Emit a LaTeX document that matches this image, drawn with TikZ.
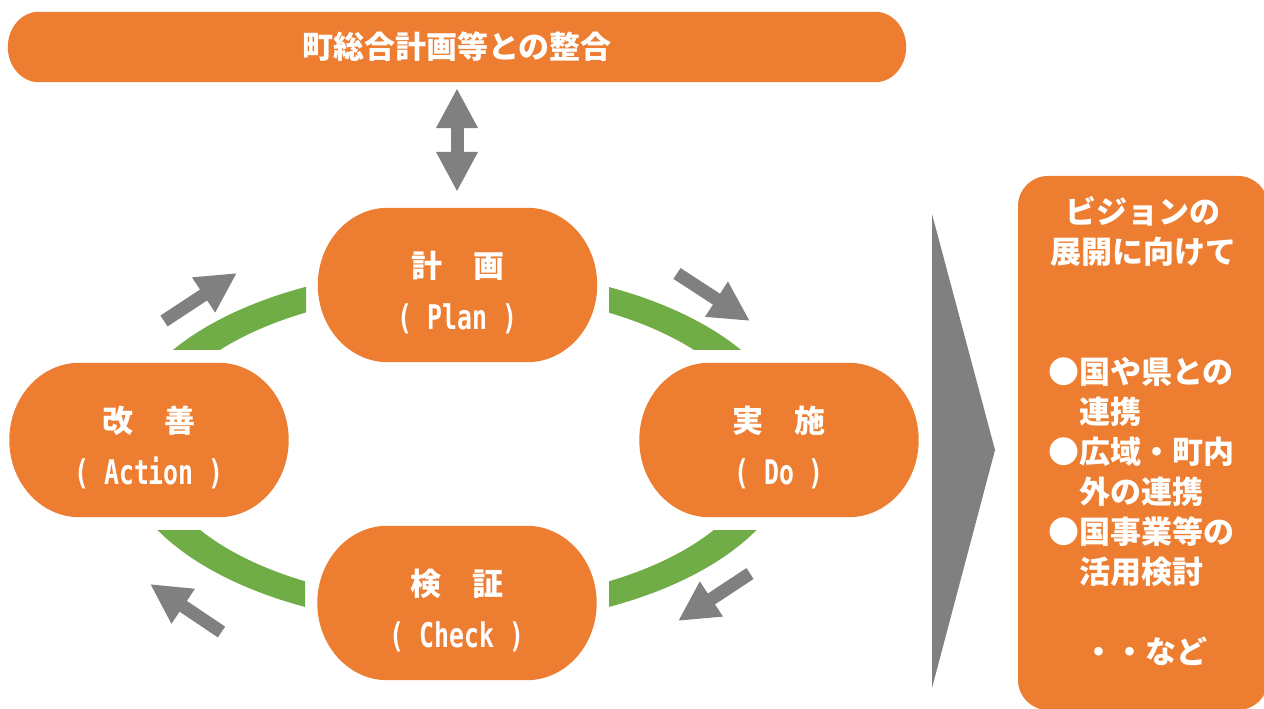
\documentclass[tikz,border=0pt]{standalone}
\usepackage{fontspec}
\usepackage{graphicx}
\setmainfont{Noto Sans CJK JP}
\newfontfamily\monoFont{DejaVu Sans Mono}
\usetikzlibrary{arrows.meta,calc,backgrounds}

\newcommand{\latinLabel}[1]{\scalebox{0.73}[1]{\fontsize{34}{34}\monoFont\bfseries #1}}
\newcommand{\pillShape}[2]{%
  \fill[pillOrange] let \p1=(#1.north west), \p2=(#1.south east) in
    (\x1+#2pt,\y1) -- (\x2-#2pt,\y1) arc[start angle=90, end angle=-90, x radius=#2pt, y radius={(\y1-\y2)/2}]
    -- (\x1+#2pt,\y2) arc[start angle=270, end angle=90, x radius=#2pt, y radius={(\y1-\y2)/2}] -- cycle;}

\begin{document}
\begin{tikzpicture}[x=1pt, y=1pt,
    phase/.style={minimum width=279pt, minimum height=154pt, inner sep=0pt, align=center,
      text=white, font=\fontsize{31}{52}\selectfont\bfseries, text height=93pt},
    banner/.style={minimum width=898pt, minimum height=70pt, inner sep=0pt, text=white,
      font=\fontsize{31}{36}\selectfont\bfseries},
    visionBox/.style={minimum width=250pt, minimum height=534pt, fill=pillOrange, rounded corners=30pt},
    visionText/.style={inner sep=0pt, text=white, font=\fontsize{31}{40}\selectfont\bfseries},
    flow/.style={draw=arrowGray, line width=13pt, -{Triangle[width=39pt, length=40pt]}}]

    \definecolor{pillOrange}{HTML}{ED7D31}
    \definecolor{cycleGreen}{HTML}{70AD47}
    \definecolor{arrowGray}{HTML}{808080}

    \useasboundingbox (0,0) rectangle (1264,709);
    \begin{scope}[on background layer]
        \fill[white] (0,0) rectangle (1264,709);
    \end{scope}

    % Draw cycle bands
    \foreach \xa/\ya/\xb/\yb in {0/359/306/709, 609/359/1264/709, 0/0/305/178, 609/0/1264/178} {
        \begin{scope}
            \clip (\xa,\ya) rectangle (\xb,\yb);
            \fill[cycleGreen, even odd rule] (457,262) ellipse [x radius=338, y radius=179]
                (457,262) ellipse [x radius=304, y radius=155];
        \end{scope}
    }

    % Banner and PDCA phases
    \node[banner] (townPlan) at (457,662) {町総合計画等との整合};
    \node[phase] (planNode) at (457.5,424) {計　画\\\latinLabel{( Plan )}};
    \node[phase] (doNode) at (779,269) {実　施\\\latinLabel{( Do )}};
    \node[phase] (checkNode) at (457,106) {検　証\\\latinLabel{( Check )}};
    \node[phase] (actionNode) at (149,269) {改　善\\\latinLabel{( Action )}};

    \begin{scope}[on background layer]
        \pillShape{townPlan}{31}
        \pillShape{planNode}{70}
        \pillShape{doNode}{70}
        \pillShape{checkNode}{70}
        \pillShape{actionNode}{70}
    \end{scope}

    % Link to the town plan
    \draw[flow, {Triangle[width=39pt, length=40pt]}-{Triangle[width=39pt, length=40pt]},
        shorten <=6pt, shorten >=16pt] (townPlan.south) -- (townPlan.south |- planNode.north);

    % Cycle arrows
    \coordinate (actionPlanTail) at (164,388);
    \coordinate (actionPlanTip) at (237,436);
    \coordinate (planDoTail) at (677,435.5);
    \coordinate (planDoTip) at (750,388);
    \coordinate (doCheckTail) at (750,135.5);
    \coordinate (doCheckTip) at (678,88);
    \coordinate (checkActionTail) at (221.5,77);
    \coordinate (checkActionTip) at (150,125);
    \draw[flow] (actionPlanTail) -- (actionPlanTip);
    \draw[flow] (planDoTail) -- (planDoTip);
    \draw[flow] (doCheckTail) -- (doCheckTip);
    \draw[flow] (checkActionTail) -- (checkActionTip);

    % Big pointer to the vision box
    \fill[arrowGray] (932,495) -- (995,259) -- (932,21) -- cycle;

    % Vision box
    \node[visionBox] (vision) at (1143,266) {};
    \node[visionText, align=center] (visionTitle) at (1143,477) {ビジョンの\\展開に向けて};
    \node[visionText, align=left, anchor=west] (visionList) at (1048,237)
        {●国や県との\\　連携\\●広域・町内\\　外の連携\\●国事業等の\\　活用検討};
    \node[visionText] (visionEtc) at (1145,58) {・・など};

\end{tikzpicture}
\end{document}
